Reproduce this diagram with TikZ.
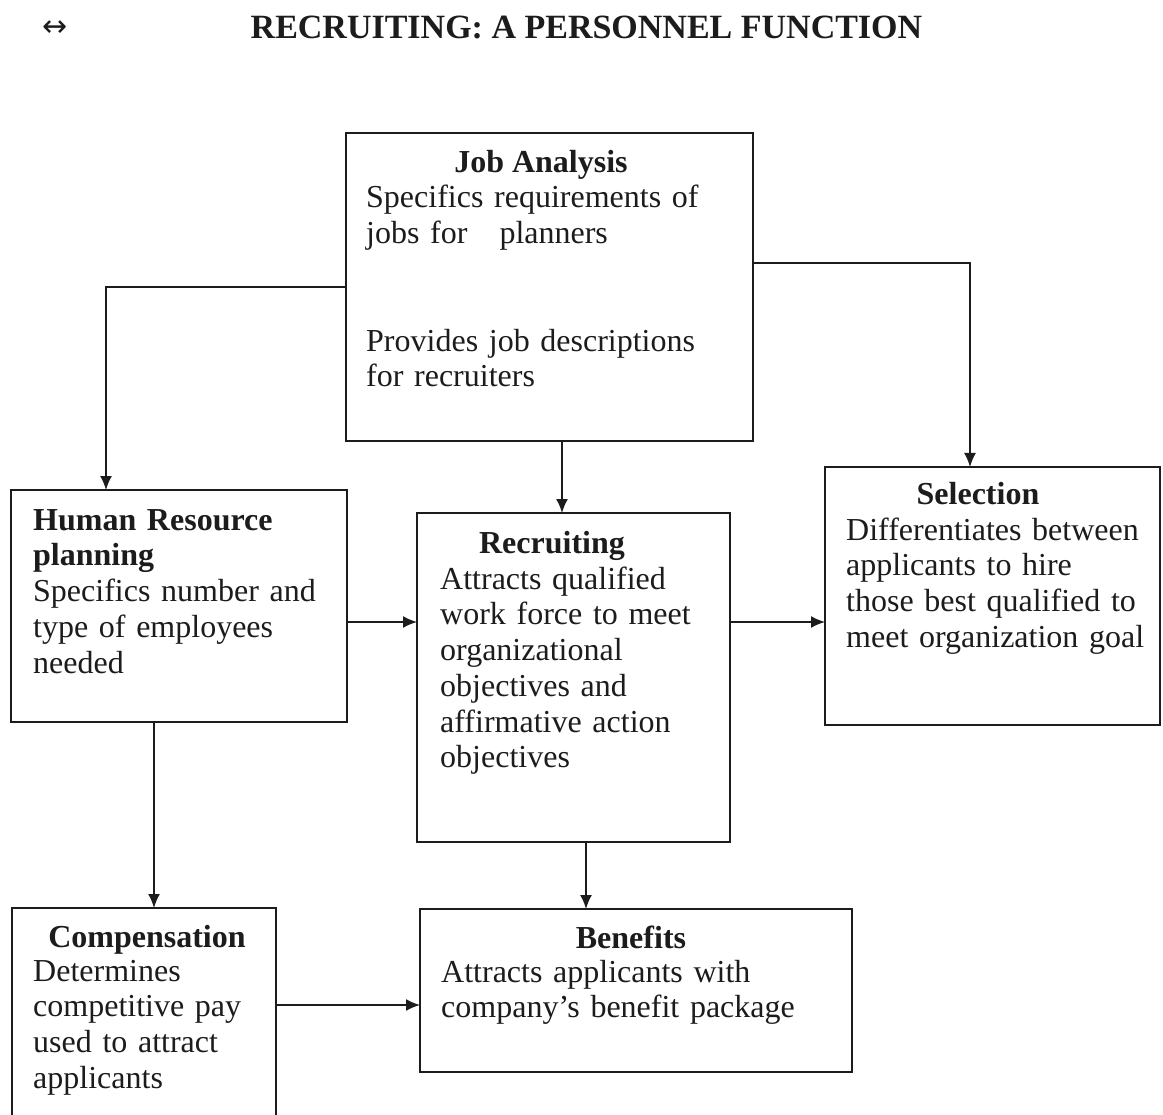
\documentclass[tikz,border=0pt]{standalone}
\usepackage{fontspec}
\setmainfont{Liberation Serif}
\newfontfamily\arrowfont{DejaVu Sans}
\usetikzlibrary{arrows.meta}
\definecolor{ink}{HTML}{1C1C1C}
\begin{document}
\begin{tikzpicture}[x=1pt,y=-1pt,
  box/.style={draw=ink, line width=1.8pt, inner sep=0pt, outer sep=0pt, anchor=north west},
  head/.style={font=\bfseries\fontsize{32}{36}\selectfont, text=ink, inner sep=0pt, anchor=base},
  body/.style={font=\fontsize{32}{35.8}\selectfont, text=ink, inner sep=0pt, anchor=base west, align=left, text width=#1},
  link/.style={draw=ink, line width=1.7pt, -{Latex[length=14pt,width=12pt]}}]

% page area
\clip (0,0) rectangle (1163,1115);
\fill[white] (0,0) rectangle (1163,1115);

% heading line
\node[font=\arrowfont\fontsize{30}{34}\selectfont, text=ink, inner sep=0pt] (sym) at (55.5,29) {↔};
\node[font=\bfseries\fontsize{34}{40}\selectfont, text=ink, inner sep=0pt, anchor=base] (title) at (586.5,39) {RECRUITING: A PERSONNEL FUNCTION};

% boxes
\node[box, minimum width=407pt, minimum height=308pt] (ja) at (346,133) {};
\node[box, minimum width=336pt, minimum height=232pt] (hr) at (11,490) {};
\node[box, minimum width=313pt, minimum height=329pt] (rec) at (417,513) {};
\node[box, minimum width=335pt, minimum height=258pt] (sel) at (825,467) {};
\node[box, minimum width=264pt, minimum height=230pt] (comp) at (12,908) {};
\node[box, minimum width=432pt, minimum height=163pt] (ben) at (420,909) {};

% box texts
\node[head] (jaH) at (541,173) {Job Analysis};
\node[body=380pt] (jaT) at (366,208) {Specifics requirements of\\jobs for\ \ \ planners\\\mbox{}\\\mbox{}\\Provides job descriptions\\for recruiters};

\node[body=320pt] (hrT) at (33,530) {\textbf{Human Resource}\\\textbf{planning}\\Specifics number and\\type of employees\\needed};

\node[head] (recH) at (552,553) {Recruiting};
\node[body=290pt] (recT) at (440,589) {Attracts qualified\\work force to meet\\organizational\\objectives and\\affirmative action\\objectives};

\node[head] (selH) at (978,504) {Selection};
\node[body=310pt] (selT) at (846,540) {Differentiates between\\applicants to hire\\those best qualified to\\meet organization goal};

\node[head] (compH) at (147,947) {Compensation};
\node[body=240pt] (compT) at (33,981) {Determines\\competitive pay\\used to attract\\applicants};

\node[head] (benH) at (631,948) {Benefits};
\node[body=400pt] (benT) at (441,982) {Attracts applicants with\\company’s benefit package};

% connector end points on the box sides
\path (ja.north east) ++(0,130) coordinate (jaR);
\path (ja.south west) ++(216,0) coordinate (jaB);
\path (hr.north west) ++(95,0) coordinate (hrTop);
\path (sel.north west) ++(145,0) coordinate (selTop);
\path (hr.east) ++(0,16) coordinate (hrR);
\path (hr.south west) ++(143,0) coordinate (hrB);
\path (rec.east) ++(0,-55.5) coordinate (recR);
\path (rec.south west) ++(169,0) coordinate (recB);
\path (comp.north east) ++(0,97) coordinate (compR);

% connectors
\draw[link] (ja.west) -| (hrTop);
\draw[link] (jaR) -| (selTop);
\draw[link] (jaB) -- (jaB |- rec.north);
\draw[link] (hrR) -- (hrR -| rec.west);
\draw[link] (recR) -- (recR -| sel.west);
\draw[link] (hrB) -- (hrB |- comp.north);
\draw[link] (recB) -- (recB |- ben.north);
\draw[link] (compR) -- (compR -| ben.west);
\end{tikzpicture}
\end{document}
